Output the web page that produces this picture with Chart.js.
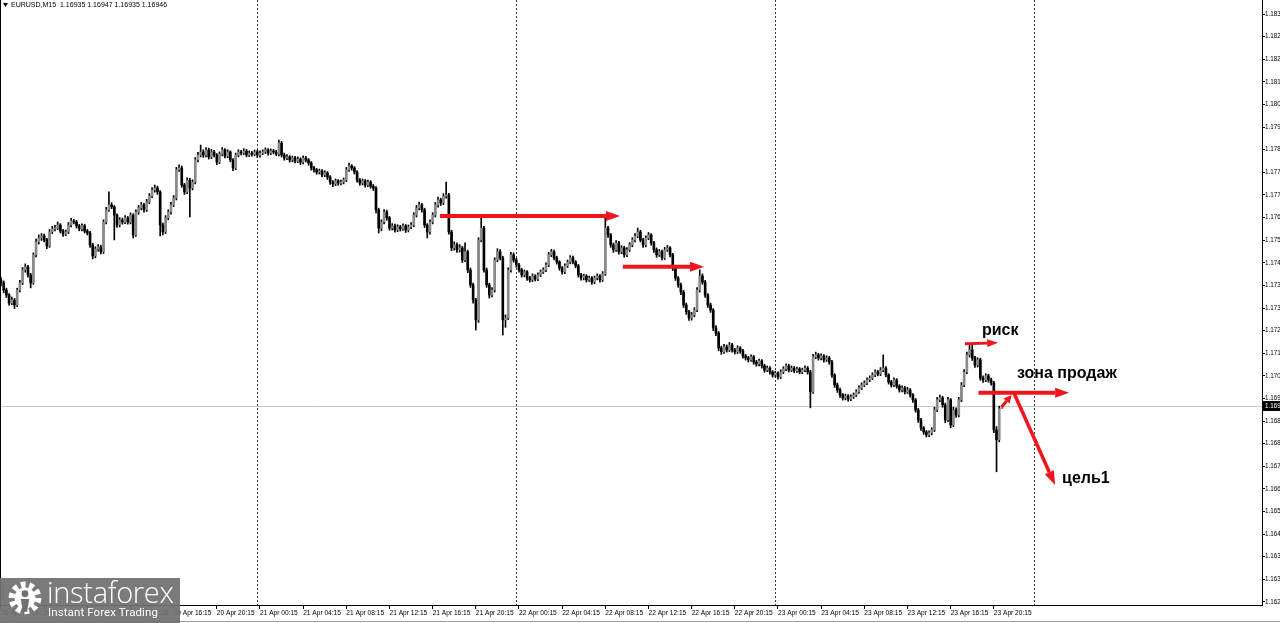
<!DOCTYPE html>
<html>
<head>
<meta charset="utf-8">
<script src="https://cdn.jsdelivr.net/npm/chart.js@4.4.1/dist/chart.umd.min.js"></script>
<style>
    html, body { margin: 0; padding: 0; background: #fff; overflow: hidden; }
    #wrap { position: relative; width: 1280px; height: 623px; }
    #logo {
        position: absolute; left: 0; top: 578px; width: 180px; height: 45px;
        background: rgba(112, 112, 112, 0.93); color: #fff; overflow: hidden;
    }
    #logo svg { position: absolute; left: 6px; top: 2px; }
    #logo .name {
        position: absolute; left: 47px; top: -6px; font-family: 'Open Sans', sans-serif;
        font-weight: 300; font-size: 29px; letter-spacing: -0.3px;
    }
    #logo .tag {
        position: absolute; left: 48px; top: 27px; font-family: Roboto, sans-serif;
        font-size: 11.5px; letter-spacing: 0.1px;
    }
</style>
</head>
<body>
<div id="wrap">
    <canvas id="chart" width="1280" height="623"></canvas>
    <div id="logo">
        <svg width="38" height="38" viewBox="0 0 36 36">
            <circle cx="18" cy="17" r="12" fill="none" stroke="#fff" stroke-width="7" stroke-dasharray="4.2 3.3"/>
            <circle cx="18" cy="17" r="10" fill="#fff"/>
            <circle cx="18" cy="13" r="3.2" fill="#707070"/>
            <path d="M14 18 L22 18 L20 30 L16 30 Z" fill="#707070"/>
        </svg>
        <span class="name">instaforex</span>
        <span class="tag">Instant Forex Trading</span>
    </div>
</div>
<script>
// EURUSD M15, bar 0 = 20 Apr 00:15
const firstOpen = 1.17402;

const closes = [
    1.17391, 1.17365, 1.17347, 1.17318, 1.17329, 1.17311, 1.17365, 1.17391, 1.17438, 1.17449,
    1.17420, 1.17391, 1.17493, 1.17540, 1.17554, 1.17561, 1.17547, 1.17525, 1.17576, 1.17587,
    1.17590, 1.17601, 1.17579, 1.17568, 1.17576, 1.17601, 1.17616, 1.17612, 1.17598, 1.17587,
    1.17598, 1.17579, 1.17572, 1.17529, 1.17489, 1.17514, 1.17522, 1.17504, 1.17612, 1.17656,
    1.17674, 1.17667, 1.17637, 1.17601, 1.17619, 1.17612, 1.17627, 1.17612, 1.17637, 1.17565,
    1.17648, 1.17663, 1.17674, 1.17656, 1.17685, 1.17706, 1.17728, 1.17735, 1.17721, 1.17601,
    1.17576, 1.17627, 1.17648, 1.17674, 1.17699, 1.17801, 1.17808, 1.17746, 1.17721, 1.17764,
    1.17735, 1.17757, 1.17837, 1.17855, 1.17866, 1.17855, 1.17873, 1.17848, 1.17866, 1.17855,
    1.17829, 1.17858, 1.17873, 1.17851, 1.17866, 1.17837, 1.17808, 1.17855, 1.17866, 1.17862,
    1.17869, 1.17855, 1.17862, 1.17858, 1.17866, 1.17855, 1.17862, 1.17866, 1.17873, 1.17862,
    1.17869, 1.17866, 1.17858, 1.17898, 1.17855, 1.17844, 1.17848, 1.17837, 1.17844, 1.17833,
    1.17840, 1.17829, 1.17844, 1.17837, 1.17826, 1.17808, 1.17801, 1.17793, 1.17797, 1.17783,
    1.17790, 1.17775, 1.17757, 1.17750, 1.17761, 1.17753, 1.17757, 1.17764, 1.17801, 1.17815,
    1.17808, 1.17793, 1.17764, 1.17753, 1.17761, 1.17746, 1.17757, 1.17742, 1.17735, 1.17656,
    1.17590, 1.17612, 1.17648, 1.17627, 1.17590, 1.17598, 1.17583, 1.17594, 1.17587, 1.17598,
    1.17583, 1.17594, 1.17601, 1.17637, 1.17663, 1.17674, 1.17656, 1.17601, 1.17576, 1.17612,
    1.17637, 1.17674, 1.17692, 1.17681, 1.17706, 1.17710, 1.17576, 1.17518, 1.17529, 1.17511,
    1.17518, 1.17474, 1.17504, 1.17438, 1.17384, 1.17329, 1.17257, 1.17547, 1.17590, 1.17438,
    1.17384, 1.17347, 1.17365, 1.17474, 1.17504, 1.17482, 1.17257, 1.17264, 1.17438, 1.17493,
    1.17474, 1.17456, 1.17438, 1.17420, 1.17431, 1.17409, 1.17402, 1.17416, 1.17405, 1.17420,
    1.17431, 1.17438, 1.17456, 1.17493, 1.17504, 1.17482, 1.17467, 1.17445, 1.17431, 1.17453,
    1.17467, 1.17482, 1.17467, 1.17453, 1.17420, 1.17409, 1.17416, 1.17402, 1.17409, 1.17394,
    1.17409, 1.17416, 1.17402, 1.17424, 1.17590, 1.17565, 1.17529, 1.17511, 1.17536, 1.17504,
    1.17518, 1.17493, 1.17511, 1.17529, 1.17547, 1.17561, 1.17576, 1.17547, 1.17529, 1.17554,
    1.17565, 1.17536, 1.17511, 1.17493, 1.17504, 1.17482, 1.17511, 1.17518, 1.17493, 1.17445,
    1.17409, 1.17384, 1.17358, 1.17311, 1.17286, 1.17264, 1.17275, 1.17293, 1.17365, 1.17416,
    1.17394, 1.17347, 1.17311, 1.17293, 1.17228, 1.17209, 1.17155, 1.17141, 1.17159, 1.17148,
    1.17166, 1.17148, 1.17141, 1.17155, 1.17144, 1.17126, 1.17119, 1.17112, 1.17123, 1.17104,
    1.17097, 1.17108, 1.17090, 1.17075, 1.17082, 1.17068, 1.17057, 1.17064, 1.17050, 1.17068,
    1.17079, 1.17090, 1.17075, 1.17082, 1.17072, 1.17079, 1.17068, 1.17075, 1.17082, 1.17068,
    1.16996, 1.17123, 1.17130, 1.17119, 1.17126, 1.17112, 1.17119, 1.17104, 1.17057, 1.17021,
    1.17003, 1.16985, 1.16974, 1.16981, 1.16970, 1.16978, 1.16985, 1.16996, 1.17010, 1.17021,
    1.17028, 1.17039, 1.17046, 1.17057, 1.17068, 1.17061, 1.17075, 1.17082, 1.17057, 1.17032,
    1.17021, 1.17039, 1.17017, 1.17003, 1.17010, 1.16996, 1.17003, 1.16985, 1.16967, 1.16930,
    1.16894, 1.16865, 1.16851, 1.16840, 1.16847, 1.16858, 1.16930, 1.16967, 1.16974, 1.16949,
    1.16894, 1.16967, 1.16876, 1.16930, 1.16912, 1.16967, 1.17021, 1.17068, 1.17130, 1.17148,
    1.17119, 1.17093, 1.17112, 1.17046, 1.17039, 1.17054, 1.17039, 1.17028, 1.16858, 1.16822,
    1.16935, 1.16946
];

const highs = [
    1.17410, 1.17398, 1.17372, 1.17352, 1.17340, 1.17335, 1.17372, 1.17400, 1.17447, 1.17460,
    1.17455, 1.17426, 1.17500, 1.17550, 1.17565, 1.17570, 1.17568, 1.17553, 1.17585, 1.17596,
    1.17600, 1.17612, 1.17606, 1.17585, 1.17583, 1.17610, 1.17625, 1.17622, 1.17618, 1.17603,
    1.17605, 1.17604, 1.17585, 1.17578, 1.17535, 1.17522, 1.17530, 1.17528, 1.17620, 1.17665,
    1.17721, 1.17682, 1.17672, 1.17642, 1.17628, 1.17626, 1.17635, 1.17632, 1.17645, 1.17642,
    1.17656, 1.17672, 1.17683, 1.17680, 1.17694, 1.17715, 1.17737, 1.17746, 1.17742, 1.17726,
    1.17608, 1.17635, 1.17656, 1.17683, 1.17708, 1.17810, 1.17819, 1.17815, 1.17752, 1.17772,
    1.17770, 1.17765, 1.17846, 1.17865, 1.17891, 1.17874, 1.17882, 1.17880, 1.17875, 1.17872,
    1.17860, 1.17866, 1.17882, 1.17878, 1.17874, 1.17870, 1.17842, 1.17862, 1.17874, 1.17872,
    1.17878, 1.17875, 1.17870, 1.17868, 1.17873, 1.17872, 1.17870, 1.17874, 1.17881, 1.17878,
    1.17877, 1.17875, 1.17872, 1.17909, 1.17904, 1.17862, 1.17856, 1.17853, 1.17851, 1.17850,
    1.17848, 1.17845, 1.17852, 1.17850, 1.17842, 1.17831, 1.17814, 1.17806, 1.17804, 1.17802,
    1.17798, 1.17795, 1.17780, 1.17762, 1.17768, 1.17766, 1.17764, 1.17772, 1.17810, 1.17826,
    1.17820, 1.17813, 1.17798, 1.17770, 1.17768, 1.17766, 1.17764, 1.17762, 1.17748, 1.17740,
    1.17662, 1.17620, 1.17657, 1.17655, 1.17632, 1.17606, 1.17604, 1.17602, 1.17600, 1.17605,
    1.17603, 1.17601, 1.17610, 1.17646, 1.17672, 1.17684, 1.17680, 1.17662, 1.17606, 1.17620,
    1.17646, 1.17683, 1.17702, 1.17698, 1.17715, 1.17757, 1.17716, 1.17582, 1.17540, 1.17536,
    1.17530, 1.17524, 1.17536, 1.17510, 1.17445, 1.17390, 1.17335, 1.17555, 1.17630, 1.17596,
    1.17445, 1.17390, 1.17374, 1.17482, 1.17515, 1.17512, 1.17488, 1.17275, 1.17446, 1.17502,
    1.17500, 1.17480, 1.17462, 1.17444, 1.17438, 1.17436, 1.17415, 1.17424, 1.17421, 1.17428,
    1.17438, 1.17446, 1.17464, 1.17502, 1.17513, 1.17510, 1.17488, 1.17472, 1.17450, 1.17460,
    1.17474, 1.17490, 1.17488, 1.17472, 1.17458, 1.17426, 1.17423, 1.17421, 1.17416, 1.17414,
    1.17416, 1.17424, 1.17421, 1.17432, 1.17627, 1.17596, 1.17570, 1.17536, 1.17545, 1.17542,
    1.17526, 1.17524, 1.17519, 1.17537, 1.17555, 1.17570, 1.17590, 1.17582, 1.17553, 1.17562,
    1.17574, 1.17570, 1.17542, 1.17518, 1.17512, 1.17510, 1.17520, 1.17527, 1.17523, 1.17498,
    1.17450, 1.17414, 1.17390, 1.17364, 1.17318, 1.17292, 1.17284, 1.17301, 1.17374, 1.17438,
    1.17424, 1.17400, 1.17352, 1.17318, 1.17298, 1.17236, 1.17215, 1.17162, 1.17168, 1.17166,
    1.17175, 1.17172, 1.17154, 1.17163, 1.17160, 1.17150, 1.17132, 1.17125, 1.17130, 1.17128,
    1.17110, 1.17115, 1.17113, 1.17096, 1.17090, 1.17088, 1.17073, 1.17071, 1.17069, 1.17076,
    1.17087, 1.17098, 1.17096, 1.17090, 1.17088, 1.17086, 1.17084, 1.17082, 1.17090, 1.17088,
    1.17074, 1.17132, 1.17140, 1.17136, 1.17134, 1.17131, 1.17127, 1.17125, 1.17110, 1.17062,
    1.17028, 1.17010, 1.16990, 1.16988, 1.16986, 1.16985, 1.16992, 1.17004, 1.17018, 1.17029,
    1.17036, 1.17047, 1.17054, 1.17065, 1.17076, 1.17074, 1.17084, 1.17130, 1.17088, 1.17062,
    1.17038, 1.17047, 1.17044, 1.17022, 1.17018, 1.17016, 1.17012, 1.17008, 1.16990, 1.16972,
    1.16936, 1.16900, 1.16870, 1.16856, 1.16855, 1.16866, 1.16940, 1.16976, 1.16984, 1.16980,
    1.16955, 1.16976, 1.16972, 1.16940, 1.16938, 1.16976, 1.17030, 1.17077, 1.17140, 1.17166,
    1.17166, 1.17125, 1.17120, 1.17118, 1.17054, 1.17062, 1.17060, 1.17046, 1.17034, 1.16870,
    1.16944, 1.16947
];

const lows = [
    1.17380, 1.17355, 1.17338, 1.17310, 1.17312, 1.17298, 1.17305, 1.17358, 1.17385, 1.17430,
    1.17412, 1.17373, 1.17386, 1.17485, 1.17532, 1.17545, 1.17540, 1.17515, 1.17520, 1.17570,
    1.17580, 1.17584, 1.17572, 1.17560, 1.17562, 1.17570, 1.17594, 1.17605, 1.17590, 1.17580,
    1.17580, 1.17572, 1.17565, 1.17520, 1.17478, 1.17482, 1.17506, 1.17496, 1.17498, 1.17605,
    1.17650, 1.17660, 1.17547, 1.17592, 1.17594, 1.17604, 1.17606, 1.17604, 1.17605, 1.17554,
    1.17560, 1.17640, 1.17656, 1.17648, 1.17650, 1.17678, 1.17700, 1.17720, 1.17712, 1.17561,
    1.17565, 1.17570, 1.17620, 1.17640, 1.17668, 1.17692, 1.17795, 1.17738, 1.17712, 1.17715,
    1.17630, 1.17728, 1.17750, 1.17830, 1.17848, 1.17846, 1.17848, 1.17840, 1.17842, 1.17848,
    1.17820, 1.17824, 1.17852, 1.17844, 1.17845, 1.17830, 1.17798, 1.17802, 1.17848, 1.17855,
    1.17856, 1.17848, 1.17849, 1.17851, 1.17852, 1.17846, 1.17847, 1.17856, 1.17860, 1.17854,
    1.17856, 1.17859, 1.17852, 1.17852, 1.17848, 1.17836, 1.17838, 1.17829, 1.17830, 1.17826,
    1.17827, 1.17820, 1.17823, 1.17830, 1.17818, 1.17800, 1.17793, 1.17785, 1.17786, 1.17775,
    1.17776, 1.17766, 1.17748, 1.17740, 1.17744, 1.17745, 1.17746, 1.17750, 1.17758, 1.17795,
    1.17800, 1.17786, 1.17756, 1.17745, 1.17746, 1.17738, 1.17740, 1.17734, 1.17726, 1.17645,
    1.17572, 1.17580, 1.17605, 1.17618, 1.17582, 1.17583, 1.17575, 1.17577, 1.17579, 1.17581,
    1.17574, 1.17576, 1.17588, 1.17595, 1.17630, 1.17656, 1.17648, 1.17592, 1.17554, 1.17568,
    1.17605, 1.17630, 1.17666, 1.17672, 1.17675, 1.17698, 1.17568, 1.17508, 1.17510, 1.17502,
    1.17503, 1.17465, 1.17468, 1.17428, 1.17375, 1.17318, 1.17220, 1.17248, 1.17540, 1.17430,
    1.17375, 1.17336, 1.17340, 1.17358, 1.17468, 1.17474, 1.17202, 1.17230, 1.17258, 1.17430,
    1.17466, 1.17448, 1.17430, 1.17412, 1.17413, 1.17400, 1.17394, 1.17396, 1.17398, 1.17399,
    1.17414, 1.17425, 1.17432, 1.17450, 1.17486, 1.17474, 1.17459, 1.17437, 1.17423, 1.17425,
    1.17447, 1.17460, 1.17460, 1.17446, 1.17412, 1.17401, 1.17402, 1.17394, 1.17396, 1.17386,
    1.17388, 1.17402, 1.17394, 1.17396, 1.17418, 1.17556, 1.17520, 1.17502, 1.17505, 1.17495,
    1.17497, 1.17484, 1.17486, 1.17505, 1.17522, 1.17540, 1.17555, 1.17540, 1.17520, 1.17522,
    1.17548, 1.17528, 1.17502, 1.17484, 1.17487, 1.17474, 1.17476, 1.17505, 1.17485, 1.17436,
    1.17400, 1.17375, 1.17348, 1.17302, 1.17277, 1.17255, 1.17256, 1.17268, 1.17287, 1.17358,
    1.17386, 1.17338, 1.17302, 1.17284, 1.17218, 1.17200, 1.17145, 1.17132, 1.17135, 1.17140,
    1.17142, 1.17140, 1.17133, 1.17135, 1.17136, 1.17118, 1.17111, 1.17104, 1.17106, 1.17096,
    1.17089, 1.17090, 1.17082, 1.17067, 1.17069, 1.17060, 1.17049, 1.17050, 1.17042, 1.17044,
    1.17062, 1.17073, 1.17068, 1.17069, 1.17065, 1.17066, 1.17061, 1.17062, 1.17069, 1.17060,
    1.16938, 1.16990, 1.17116, 1.17111, 1.17112, 1.17104, 1.17106, 1.17096, 1.17048, 1.17012,
    1.16994, 1.16976, 1.16966, 1.16967, 1.16962, 1.16964, 1.16972, 1.16979, 1.16990, 1.17004,
    1.17015, 1.17022, 1.17033, 1.17040, 1.17051, 1.17054, 1.17055, 1.17069, 1.17050, 1.17024,
    1.17013, 1.17015, 1.17009, 1.16995, 1.16996, 1.16988, 1.16990, 1.16977, 1.16958, 1.16922,
    1.16885, 1.16856, 1.16842, 1.16832, 1.16833, 1.16840, 1.16852, 1.16924, 1.16960, 1.16940,
    1.16884, 1.16888, 1.16866, 1.16870, 1.16903, 1.16905, 1.16960, 1.17015, 1.17062, 1.17122,
    1.17110, 1.17085, 1.17086, 1.17038, 1.17030, 1.17033, 1.17031, 1.17020, 1.16848, 1.16706,
    1.16815, 1.16935
];

// each bar opens where the previous one closed
const opens = closes.map((c, i) => i === 0 ? firstOpen : closes[i - 1]);

// price grid of the terminal (labels are cut by the window edge)
const priceTicks = [
    1.16234, 1.16316, 1.16398, 1.16480, 1.16562, 1.16644, 1.16726, 1.16808, 1.16890,
    1.16972, 1.17054, 1.17136, 1.17218, 1.17300, 1.17382, 1.17464, 1.17546, 1.17628,
    1.17710, 1.17792, 1.17874, 1.17956, 1.18038, 1.18120, 1.18202, 1.18284, 1.18366
];

const timeTickIndex = [
    0, 16, 32, 48, 64, 80, 96, 112, 128, 144, 160, 176,
    192, 208, 224, 240, 256, 272, 288, 304, 320, 336, 352, 368
];
const timeLabels = [
    '20 Apr 00:15', '20 Apr 04:15', '20 Apr 08:15', '20 Apr 12:15', '20 Apr 16:15', '20 Apr 20:15',
    '21 Apr 00:15', '21 Apr 04:15', '21 Apr 08:15', '21 Apr 12:15', '21 Apr 16:15', '21 Apr 20:15',
    '22 Apr 00:15', '22 Apr 04:15', '22 Apr 08:15', '22 Apr 12:15', '22 Apr 16:15', '22 Apr 20:15',
    '23 Apr 00:15', '23 Apr 04:15', '23 Apr 08:15', '23 Apr 12:15', '23 Apr 16:15', '23 Apr 20:15'
];

// day separators (bar index of 00:00)
const daySeparators = [95, 191, 287, 383];

// hand drawn arrows: [barFrom, priceFrom, barTo, priceTo]
const arrowLines = [
    [162.7, 1.17634, 229.4, 1.17634],
    [230.5, 1.17450, 260.6, 1.17450],
    [357.3, 1.17170, 369.6, 1.17174],
    [362.3, 1.16993, 395.9, 1.16993],
    [375.2, 1.16997, 390.7, 1.16658],
    [370.9, 1.16941, 374.6, 1.16985]
];
// notes: [text, bar, price at baseline]
const notes = [
    ['риск', 363.6, 1.17202],
    ['зона продаж', 376.6, 1.17046],
    ['цель1', 393.3, 1.16666]
];

const RED = '#f0141c';
const last = closes.length - 1;

function drawArrow(ctx, x1, y1, x2, y2, width, head, half) {
    const ang = Math.atan2(y2 - y1, x2 - x1);
    const bx = x2 - Math.cos(ang) * head;
    const by = y2 - Math.sin(ang) * head;
    ctx.strokeStyle = RED;
    ctx.fillStyle = RED;
    ctx.lineWidth = width;
    ctx.lineCap = 'butt';
    ctx.beginPath();
    ctx.moveTo(x1, y1);
    ctx.lineTo(bx, by);
    ctx.stroke();
    ctx.beginPath();
    ctx.moveTo(x2, y2);
    ctx.lineTo(bx + Math.sin(ang) * half, by - Math.cos(ang) * half);
    ctx.lineTo(bx - Math.sin(ang) * half, by + Math.cos(ang) * half);
    ctx.closePath();
    ctx.fill();
}

const terminalDecor = {
    id: 'terminalDecor',
    beforeDatasetsDraw(chart) {
        const { ctx, chartArea: a, scales: { x, y } } = chart;
        ctx.save();
        // current bid line
        const py = Math.round(y.getPixelForValue(closes[last])) + 0.5;
        ctx.strokeStyle = '#c8c8c8';
        ctx.lineWidth = 1;
        ctx.beginPath();
        ctx.moveTo(a.left, py);
        ctx.lineTo(a.right, py);
        ctx.stroke();
        // period separators
        ctx.strokeStyle = '#3a3a3a';
        ctx.setLineDash([2, 2]);
        daySeparators.forEach(i => {
            const px = Math.round(x.getPixelForValue(i)) + 0.5;
            ctx.beginPath();
            ctx.moveTo(px, a.top);
            ctx.lineTo(px, a.bottom);
            ctx.stroke();
        });
        ctx.restore();
    },
    afterDraw(chart) {
        const { ctx, chartArea: a, scales: { x, y } } = chart;
        ctx.save();

        // arrows
        arrowLines.forEach((l, k) => {
            const x1 = x.getPixelForValue(l[0]), y1 = y.getPixelForValue(l[1]);
            const x2 = x.getPixelForValue(l[2]), y2 = y.getPixelForValue(l[3]);
            if (k === 2) drawArrow(ctx, x1, y1, x2, y2, 3, 11, 4);
            else if (k === 5) drawArrow(ctx, x1, y1, x2, y2, 3, 8, 4);
            else if (k === 4) drawArrow(ctx, x1, y1, x2, y2, 3.5, 14, 5);
            else drawArrow(ctx, x1, y1, x2, y2, 4, 14, 5);
        });

        // notes
        ctx.fillStyle = '#000';
        ctx.font = 'bold 16px "Liberation Sans", Arial, sans-serif';
        ctx.textAlign = 'left';
        ctx.textBaseline = 'alphabetic';
        notes.forEach(n => ctx.fillText(n[0], x.getPixelForValue(n[1]), y.getPixelForValue(n[2])));

        // bid label on price axis
        const py = Math.round(y.getPixelForValue(closes[last]));
        ctx.fillStyle = '#000';
        ctx.fillRect(a.right + 1, py - 5, 20, 10);
        ctx.fillStyle = '#fff';
        ctx.font = '6.3px "Liberation Sans", Arial, sans-serif';
        ctx.textBaseline = 'middle';
        ctx.fillText(closes[last].toFixed(5), a.right + 3, py + 0.5);

        // window frame
        ctx.strokeStyle = '#000';
        ctx.lineWidth = 1;
        ctx.beginPath();
        ctx.moveTo(0.5, 0);
        ctx.lineTo(0.5, a.bottom);
        ctx.stroke();
        ctx.strokeStyle = '#a0a0a0';
        ctx.beginPath();
        ctx.moveTo(0, 621.5);
        ctx.lineTo(1280, 621.5);
        ctx.stroke();

        // symbol header
        ctx.fillStyle = '#000';
        ctx.beginPath();
        ctx.moveTo(3, 3);
        ctx.lineTo(8, 3);
        ctx.lineTo(5.5, 7);
        ctx.closePath();
        ctx.fill();
        ctx.font = '7px "Liberation Sans", Arial, sans-serif';
        ctx.textBaseline = 'middle';
        ctx.fillText('EURUSD,M15  ' + [opens[last], highs[last], lows[last], closes[last]]
            .map(v => v.toFixed(5)).join(' '), 11, 5.5);
        ctx.restore();
    }
};

const bars = closes.map((c, i) => i);

new Chart(document.getElementById('chart'), {
    type: 'bar',
    data: {
        datasets: [
            {
                label: 'bodies',
                data: bars.map(i => ({ x: i, y: [opens[i], closes[i]] })),
                backgroundColor: bars.map(i => closes[i] >= opens[i] ? '#8a8a8a' : '#000000'),
                barThickness: 2,
                minBarLength: 1,
                grouped: false,
                order: 1
            },
            {
                label: 'wicks',
                data: bars.map(i => ({ x: i, y: [lows[i], highs[i]] })),
                backgroundColor: '#000000',
                barThickness: 1,
                grouped: false,
                order: 2
            }
        ]
    },
    options: {
        responsive: false,
        animation: false,
        devicePixelRatio: 1,
        layout: { padding: 0 },
        plugins: { legend: { display: false }, tooltip: { enabled: false } },
        scales: {
            x: {
                type: 'linear',
                min: -0.37,
                max: 467.4,
                offset: false,
                grid: { display: true, drawOnChartArea: false, drawTicks: true, tickLength: 4, color: '#000', offset: false },
                border: { display: true, color: '#000' },
                afterBuildTicks: scale => { scale.ticks = timeTickIndex.map(v => ({ value: v })); },
                afterFit: scale => { scale.height = 18; scale.paddingLeft = 0; scale.paddingRight = 0; },
                ticks: {
                    autoSkip: false,
                    maxRotation: 0,
                    align: 'start',
                    padding: 0,
                    color: '#000',
                    font: { family: '"Liberation Sans", Arial, sans-serif', size: 6.6 },
                    callback: value => timeLabels[timeTickIndex.indexOf(value)]
                }
            },
            y: {
                type: 'linear',
                position: 'right',
                min: 1.16223,
                max: 1.18417,
                grid: { display: true, drawOnChartArea: false, drawTicks: true, tickLength: 3, color: '#000' },
                border: { display: true, color: '#000' },
                afterBuildTicks: scale => { scale.ticks = priceTicks.map(v => ({ value: v })); },
                afterFit: scale => { scale.width = 18; scale.paddingTop = 0; scale.paddingBottom = 0; },
                ticks: {
                    autoSkip: false,
                    padding: 0,
                    color: '#000',
                    font: { family: '"Liberation Sans", Arial, sans-serif', size: 6.3 },
                    callback: value => value.toFixed(5)
                }
            }
        }
    },
    plugins: [terminalDecor]
});
</script>
</body>
</html>
